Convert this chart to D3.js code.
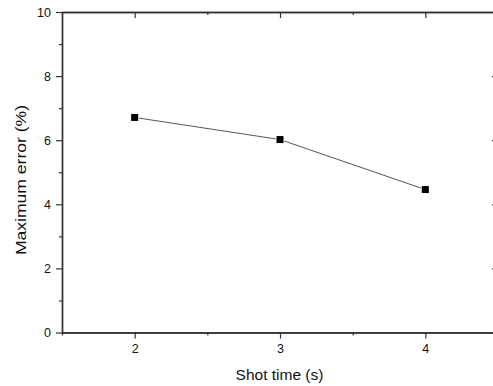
<!DOCTYPE html>
<html>
<head>
<meta charset="utf-8">
<script src="https://cdn.jsdelivr.net/npm/d3@7"></script>
<style>
  body { margin: 0; background: #fff; }
  svg { display: block; font-family: "Liberation Sans", Arial, sans-serif; }
</style>
</head>
<body>
<script>
// data
var shotTime = [2, 3, 4];
var maxError = [6.71, 6.02, 4.46];
var xMajor = [2, 3, 4];
var xMinor = [1.5, 2.5, 3.5, 4.5];
var yMajor = [0, 2, 4, 6, 8, 10];
var yMinor = [1, 3, 5, 7, 9];

var width = 493, height = 386;
var plotLeft = 62, plotRight = 498, plotTop = 12, plotBottom = 332.5;

var svg = d3.select('body').append('svg').attr('width', width).attr('height', height);

var x = d3.scaleLinear().domain([1.5, 4.5]).range([plotLeft, plotRight]);
var y = d3.scaleLinear().domain([0, 10]).range([plotBottom, plotTop]);

var axisColor = '#333';

function styleAxis(g) {
  g.select('.domain').attr('stroke', axisColor).attr('stroke-width', 1.4);
  g.selectAll('.tick line').attr('stroke', axisColor).attr('stroke-width', 1.2);
  g.selectAll('.tick text').attr('fill', '#111').style('font-size', '12.5px');
}

// bottom axis: major + minor outward ticks
svg.append('g').attr('transform', 'translate(0,' + plotBottom + ')')
  .call(d3.axisBottom(x).tickValues(xMinor).tickSize(3).tickFormat('').tickSizeOuter(0))
  .call(styleAxis);
svg.append('g').attr('transform', 'translate(0,' + plotBottom + ')')
  .call(d3.axisBottom(x).tickValues(xMajor).tickSize(6).tickPadding(6).tickFormat(d3.format('d')).tickSizeOuter(0))
  .call(styleAxis);

// top axis: inward ticks
svg.append('g').attr('transform', 'translate(0,' + plotTop + ')')
  .call(d3.axisTop(x).tickValues(xMajor).tickSize(-6).tickFormat('').tickSizeOuter(0))
  .call(styleAxis);
svg.append('g').attr('transform', 'translate(0,' + plotTop + ')')
  .call(d3.axisTop(x).tickValues(xMinor).tickSize(-3).tickFormat('').tickSizeOuter(0))
  .call(styleAxis);

// left axis
svg.append('g').attr('transform', 'translate(' + plotLeft + ',0)')
  .call(d3.axisLeft(y).tickValues(yMinor).tickSize(3).tickFormat('').tickSizeOuter(0))
  .call(styleAxis);
svg.append('g').attr('transform', 'translate(' + plotLeft + ',0)')
  .call(d3.axisLeft(y).tickValues(yMajor).tickSize(6).tickPadding(5).tickFormat(d3.format('d')).tickSizeOuter(0))
  .call(styleAxis);

// right axis: inward ticks
svg.append('g').attr('transform', 'translate(' + plotRight + ',0)')
  .call(d3.axisRight(y).tickValues(yMajor).tickSize(-6).tickFormat('').tickSizeOuter(0))
  .call(styleAxis);
svg.append('g').attr('transform', 'translate(' + plotRight + ',0)')
  .call(d3.axisRight(y).tickValues(yMinor).tickSize(-3).tickFormat('').tickSizeOuter(0))
  .call(styleAxis);

var pts = shotTime.map(function (d, i) { return [d, maxError[i]]; });

var line = d3.line()
  .x(function (d) { return x(d[0]); })
  .y(function (d) { return y(d[1]); });

svg.append('path')
  .datum(pts)
  .attr('d', line)
  .attr('fill', 'none')
  .attr('stroke', '#555')
  .attr('stroke-width', 1);

var s = 7;
svg.selectAll('rect.pt')
  .data(pts)
  .enter()
  .append('rect')
  .attr('class', 'pt')
  .attr('x', function (d) { return x(d[0]) - s / 2; })
  .attr('y', function (d) { return y(d[1]) - s / 2; })
  .attr('width', s)
  .attr('height', s)
  .attr('fill', '#000')
  .attr('stroke', '#fff')
  .attr('stroke-width', 1.5)
  .attr('paint-order', 'stroke');

// axis titles
svg.append('text')
  .attr('x', 279.5)
  .attr('y', 380)
  .attr('text-anchor', 'middle')
  .style('font-size', '15.5px')
  .attr('fill', '#111')
  .text('Shot time (s)');

svg.append('text')
  .attr('transform', 'translate(26,180) rotate(-90)')
  .attr('text-anchor', 'middle')
  .style('font-size', '15.5px')
  .attr('textLength', 150)
  .attr('lengthAdjust', 'spacingAndGlyphs')
  .attr('fill', '#111')
  .text('Maximum error (%)');
</script>
</body>
</html>
